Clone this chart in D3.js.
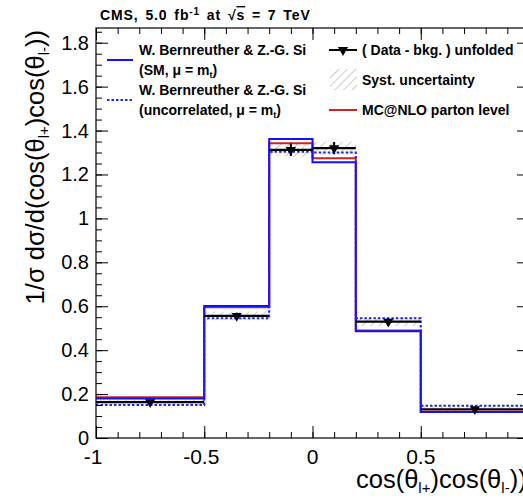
<!DOCTYPE html>
<html>
<head>
<meta charset="utf-8">
<script src="https://cdn.jsdelivr.net/npm/d3@7"></script>
<style>
  body { margin: 0; background: #fff; }
  text { font-family: "Liberation Sans", Arial, Helvetica, sans-serif; }
</style>
</head>
<body>
<div class="chart"></div>
<script>
// bin edges of cos(theta_l+)cos(theta_l-)
const binEdges = [-1, -0.5, -0.2, 0, 0.2, 0.5, 1];

// unfolded data (black triangles) and its syst. band / stat. error
const dataValues = [0.163, 0.556, 1.312, 1.320, 0.530, 0.131];
const systErr    = [0.012, 0.020, 0.030, 0.030, 0.020, 0.010];
const statErr    = [0.008, 0.015, 0.028, 0.028, 0.015, 0.006];

// theory predictions
const smValues     = [0.180, 0.601, 1.361, 1.256, 0.486, 0.118];
const uncorrValues = [0.150, 0.545, 1.304, 1.300, 0.545, 0.147];
const mcnloValues  = [0.185, 0.595, 1.342, 1.274, 0.489, 0.121];

// "1" sits right of the visible window, so only these are labelled
const xTicks = [-1, -0.5, 0, 0.5, 1];
const xTickLabels = [-1, -0.5, 0, 0.5];
const yTicks = [0, 0.2, 0.4, 0.6, 0.8, 1, 1.2, 1.4, 1.6, 1.8];

var cfg = {
  width: 523,
  height: 498,
  margin: {top: 28, right: -6, bottom: 60, left: 96}
};

var scale = {
  x: d3.scaleLinear()
      .domain([-1, 1])
      .range([cfg.margin.left, cfg.width - cfg.margin.right]),
  y: d3.scaleLinear()
      .domain([0, 1.867])
      .range([cfg.height - cfg.margin.bottom, cfg.margin.top])
};

function bins(values){
  return values.map((v, i) => ({x0: binEdges[i], x1: binEdges[i + 1], v: v}));
}

// step outline of a histogram
function stepPath(values){
  var p = d3.path();
  values.forEach((v, i) => {
    var x0 = scale.x(binEdges[i]), x1 = scale.x(binEdges[i + 1]), y = scale.y(v);
    if(i == 0) p.moveTo(x0, y); else p.lineTo(x0, y);
    p.lineTo(x1, y);
  });
  return p.toString();
}

function initDefs(svg){
  var pat = svg.append("defs").append("pattern")
      .attr("id", "hatch")
      .attr("patternUnits", "userSpaceOnUse")
      .attr("width", 6)
      .attr("height", 6)
      .attr("patternTransform", "rotate(45)");
  pat.append("line")
      .attr("x1", 0).attr("y1", 0)
      .attr("x2", 0).attr("y2", 6)
      .attr("stroke", "#9a9a9a")
      .attr("stroke-width", 1);
  svg.append("clipPath").attr("id", "frame-clip")
    .append("rect")
      .attr("x", scale.x(-1)).attr("y", scale.y.range()[1])
      .attr("width", scale.x(1) - scale.x(-1))
      .attr("height", scale.y.range()[0] - scale.y.range()[1]);
}

function initAxis(svg){
  var y0 = scale.y.range()[0], y1 = scale.y.range()[1];
  var x0 = scale.x(-1), x1 = scale.x(1);
  var minorX = d3.range(-10, 11).map(d => d / 10);
  var minorY = d3.range(0, 38).map(d => d * 0.05);

  // bottom + top ticks (pointing inward)
  [[y0, d3.axisBottom], [y1, d3.axisTop]].forEach(([yy, ax]) => {
    svg.append("g").attr("transform", `translate(0,${yy})`)
      .call(ax(scale.x).tickValues(minorX).tickSize(-6).tickFormat(""))
      .call(g => g.select(".domain").remove());
    svg.append("g").attr("transform", `translate(0,${yy})`)
      .call(ax(scale.x).tickValues(xTicks).tickSize(-12).tickFormat(""))
      .call(g => g.select(".domain").remove());
  });

  // left + right ticks
  [[x0, d3.axisLeft], [x1, d3.axisRight]].forEach(([xx, ax]) => {
    svg.append("g").attr("transform", `translate(${xx},0)`)
      .call(ax(scale.y).tickValues(minorY).tickSize(-6).tickFormat(""))
      .call(g => g.select(".domain").remove());
    svg.append("g").attr("transform", `translate(${xx},0)`)
      .call(ax(scale.y).tickValues(yTicks).tickSize(-12).tickFormat(""))
      .call(g => g.select(".domain").remove());
  });
  svg.selectAll(".tick line").attr("stroke", "#000").attr("stroke-width", 1);

  // frame
  svg.append("rect")
      .attr("x", x0).attr("y", y1)
      .attr("width", x1 - x0).attr("height", y0 - y1)
      .attr("fill", "none").attr("stroke", "#000").attr("stroke-width", 1.2);

  // tick labels
  svg.append("g").selectAll("text")
    .data(xTickLabels).enter().append("text")
      .attr("x", d => scale.x(d) - (d < 0 ? 3 : 0))
      .attr("y", y0 + 26)
      .attr("text-anchor", "middle")
      .style("font-size", "21px")
      .text(d => d);
  svg.append("g").selectAll("text")
    .data(yTicks).enter().append("text")
      .attr("x", x0 - 7)
      .attr("y", d => scale.y(d) + 7)
      .attr("text-anchor", "end")
      .style("font-size", "20px")
      .text(d => d);
}

function initTitles(svg){
  // x title
  var xt = svg.append("text")
      .attr("x", 356).attr("y", 488)
      .style("font-size", "25.5px");
  xt.append("tspan").text("cos(θ");
  xt.append("tspan").attr("dy", 5).style("font-size", "15px").text("l+");
  xt.append("tspan").attr("dy", -5).text(")cos(θ");
  xt.append("tspan").attr("dy", 5).style("font-size", "15px").text("l-");
  xt.append("tspan").attr("dy", -5).text("))");

  // y title
  var yt = svg.append("text")
      .attr("transform", "translate(44,30) rotate(-90)")
      .attr("text-anchor", "end")
      .style("font-size", "25.5px");
  yt.append("tspan").text("1/σ dσ/d(cos(θ");
  yt.append("tspan").attr("dy", 5).style("font-size", "15px").text("l+");
  yt.append("tspan").attr("dy", -5).text(")cos(θ");
  yt.append("tspan").attr("dy", 5).style("font-size", "15px").text("l-");
  yt.append("tspan").attr("dy", -5).text("))");

  // header
  var h = svg.append("text")
      .attr("x", 100).attr("y", 20)
      .style("font-size", "14px").style("font-weight", "bold")
      .style("letter-spacing", "0.9px").style("word-spacing", "2px");
  h.append("tspan").text("CMS, 5.0 fb");
  h.append("tspan").attr("dy", -5).style("font-size", "10px").text("-1");
  h.append("tspan").attr("dy", 5).text(" at  √");
  h.append("tspan").style("text-decoration", "overline").text("s");
  h.append("tspan").text(" = 7 TeV");
}

function drawHistos(svg){
  var g = svg.append("g").attr("clip-path", "url(#frame-clip)");

  // syst. uncertainty band
  g.selectAll("rect.syst")
    .data(bins(dataValues)).enter().append("rect")
      .attr("class", "syst")
      .attr("x", d => scale.x(d.x0))
      .attr("width", d => scale.x(d.x1) - scale.x(d.x0))
      .attr("y", (d, i) => scale.y(d.v + systErr[i]))
      .attr("height", (d, i) => scale.y(d.v - systErr[i]) - scale.y(d.v + systErr[i]))
      .attr("fill", "url(#hatch)");

  g.append("path").attr("d", stepPath(mcnloValues))
      .attr("fill", "none").attr("stroke", "#d42020").attr("stroke-width", 2);
  g.append("path").attr("d", stepPath(smValues))
      .attr("fill", "none").attr("stroke", "#1010ff").attr("stroke-width", 2);
  g.append("path").attr("d", stepPath(uncorrValues))
      .attr("fill", "none").attr("stroke", "#2020ff").attr("stroke-width", 2)
      .attr("stroke-dasharray", "2.5,2");

  // data: horizontal bars, error bars, markers
  var dg = g.append("g");
  dg.selectAll("line.bar")
    .data(bins(dataValues)).enter().append("line")
      .attr("x1", d => scale.x(d.x0)).attr("x2", d => scale.x(d.x1))
      .attr("y1", d => scale.y(d.v)).attr("y2", d => scale.y(d.v))
      .attr("stroke", "#000").attr("stroke-width", 2.2);
  dg.selectAll("line.err")
    .data(bins(dataValues)).enter().append("line")
      .attr("x1", d => scale.x((d.x0 + d.x1) / 2)).attr("x2", d => scale.x((d.x0 + d.x1) / 2))
      .attr("y1", (d, i) => scale.y(d.v + statErr[i])).attr("y2", (d, i) => scale.y(d.v - statErr[i]))
      .attr("stroke", "#000").attr("stroke-width", 2);
  var tri = d3.symbol().type(d3.symbolTriangle).size(45);
  dg.selectAll("path.mk")
    .data(bins(dataValues)).enter().append("path")
      .attr("d", tri)
      .attr("transform", d => `translate(${scale.x((d.x0 + d.x1) / 2)},${scale.y(d.v)}) rotate(180)`)
      .attr("fill", "#000");
}

function drawLegend(svg){
  var lg = svg.append("g").style("font-weight", "bold").style("font-size", "14px");

  // left column
  lg.append("line").attr("x1", 107).attr("x2", 133).attr("y1", 60).attr("y2", 60)
      .attr("stroke", "#1010ff").attr("stroke-width", 2);
  lg.append("line").attr("x1", 107).attr("x2", 133).attr("y1", 100).attr("y2", 100)
      .attr("stroke", "#2020ff").attr("stroke-width", 2).attr("stroke-dasharray", "2.5,2");
  lg.append("text").attr("x", 139).attr("y", 55).text("W. Bernreuther & Z.-G. Si");
  var t2 = lg.append("text").attr("x", 139).attr("y", 75);
  t2.append("tspan").text("(SM, μ = m");
  t2.append("tspan").attr("dy", 3).style("font-size", "9px").text("t");
  t2.append("tspan").attr("dy", -3).text(")");
  lg.append("text").attr("x", 139).attr("y", 95).text("W. Bernreuther & Z.-G. Si");
  var t4 = lg.append("text").attr("x", 139).attr("y", 115);
  t4.append("tspan").text("(uncorrelated, μ = m");
  t4.append("tspan").attr("dy", 3).style("font-size", "9px").text("t");
  t4.append("tspan").attr("dy", -3).text(")");

  // right column
  lg.append("line").attr("x1", 329).attr("x2", 357).attr("y1", 50).attr("y2", 50)
      .attr("stroke", "#000").attr("stroke-width", 2);
  lg.append("path").attr("d", d3.symbol().type(d3.symbolTriangle).size(45))
      .attr("transform", "translate(343,50) rotate(180)").attr("fill", "#000");
  lg.append("rect").attr("x", 330).attr("y", 69).attr("width", 27).attr("height", 21)
      .attr("fill", "url(#hatch)");
  lg.append("line").attr("x1", 329).attr("x2", 357).attr("y1", 110).attr("y2", 110)
      .attr("stroke", "#d42020").attr("stroke-width", 2);
  lg.append("text").attr("x", 362).attr("y", 55).text("( Data - bkg. ) unfolded");
  lg.append("text").attr("x", 362).attr("y", 85).text("Syst. uncertainty");
  lg.append("text").attr("x", 362).attr("y", 115).text("MC@NLO parton level");
}

function createViz(){
  var svg = d3.select(".chart").append("svg")
      .attr("width", cfg.width)
      .attr("height", cfg.height);
  initDefs(svg);
  drawHistos(svg);
  initAxis(svg);
  initTitles(svg);
  drawLegend(svg);
}

createViz();
</script>
</body>
</html>
